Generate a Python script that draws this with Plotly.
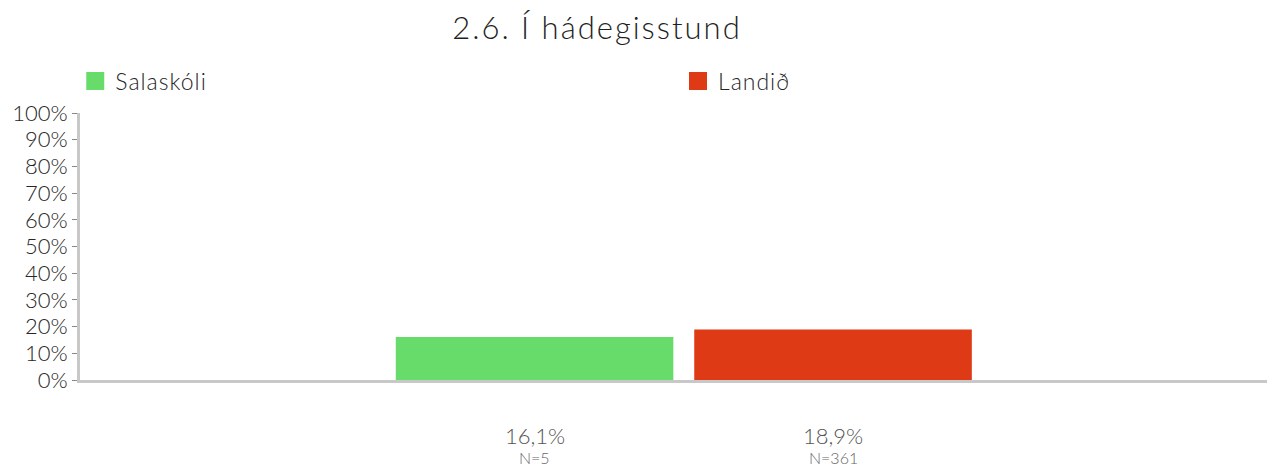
import plotly.graph_objects as go

# Series and their values (share of respondents, %)
series = ["Salaskóli", "Landið"]
values = [16.1, 18.9]
counts = [5, 361]
colors = ["#67DC6A", "#DD3A15"]

y_ticks = list(range(0, 101, 10))
y_tick_text = [f"{t}%" for t in y_ticks]

FONT = "Lato"
LIGHT = 300


def spaced(text, px):
    return f"<span style='letter-spacing:{px}px'>{text}</span>"


fig = go.Figure()

for name, val, col in zip(series, values, colors):
    fig.add_trace(go.Bar(
        x=[name], y=[val], name=name,
        marker=dict(color=col, line=dict(width=0)),
        width=0.93,
        hoverinfo="skip",
        showlegend=False,
    ))

# Legend entries (square swatches), each in its own legend box
for i, (name, col) in enumerate(zip(series, colors)):
    fig.add_trace(go.Scatter(
        x=[None], y=[None], mode="markers", name=spaced(name, 1),
        marker=dict(symbol="square", size=16, color=col,
                    line=dict(width=2, color=col)),
        legend="legend" if i == 0 else "legend2",
        hoverinfo="skip",
    ))

# Value and sample-size labels under each bar
for name, val, n in zip(series, values, counts):
    fig.add_annotation(
        x=name, xref="x", y=-0.206, yref="paper",
        text=f"{val:.1f}".replace(".", ",") + "%",
        showarrow=False, yanchor="middle",
        font=dict(family=FONT, size=22, color="#555555", weight=LIGHT),
    )
    fig.add_annotation(
        x=name, xref="x", y=-0.29, yref="paper",
        text=f"N={n}",
        showarrow=False, yanchor="middle",
        font=dict(family=FONT, size=16, color="#666666", weight=LIGHT),
    )

legend_common = dict(
    orientation="h", xanchor="left", yanchor="middle", y=1.12,
    font=dict(family=FONT, size=23, color="#262626", weight=LIGHT),
    itemclick=False, itemdoubleclick=False,
    bgcolor="rgba(0,0,0,0)",
)

fig.update_layout(
    width=1272, height=470,
    margin=dict(l=80, r=5, t=113, b=90),
    paper_bgcolor="white", plot_bgcolor="white",
    barmode="overlay",
    title=dict(
        text=spaced("2.6. Í hádegisstund", 2),
        x=597 / 1272, xref="container", xanchor="center",
        y=0.94, yref="container", yanchor="middle",
        font=dict(family=FONT, size=31, color="#1f1f1f", weight=LIGHT),
    ),
    legend=dict(x=-0.004, **legend_common),
    legend2=dict(x=0.5038, **legend_common),
    showlegend=True,
)

fig.update_xaxes(
    type="category",
    range=[-1.523, 2.454],
    showticklabels=False,
    showgrid=False, zeroline=False,
    showline=True, linecolor="#c8c8c8", linewidth=3,
    ticks="",
    fixedrange=True,
)

fig.update_yaxes(
    range=[0, 100],
    tickvals=y_ticks, ticktext=y_tick_text,
    showgrid=False, zeroline=False,
    showline=True, linecolor="#c8c8c8", linewidth=3,
    ticks="outside", ticklen=5, tickwidth=1, tickcolor="#888888",
    tickfont=dict(family=FONT, size=22, color="#262626", weight=LIGHT),
    fixedrange=True,
)

fig.write_html("out.html")
